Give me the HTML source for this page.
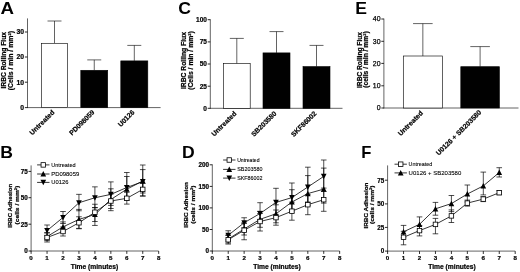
<!DOCTYPE html>
<html lang="en"><head><meta charset="utf-8"><title>Figure</title>
<style>
html,body{margin:0;padding:0;background:#fff;}
body{width:520px;height:272px;overflow:hidden;}
svg{display:block;font-family:"Liberation Sans", Arial, sans-serif;fill:#000;}
</style></head><body>
<svg width="520" height="272" viewBox="0 0 520 272">
<rect x="0" y="0" width="520" height="272" fill="#fff"/>
<g opacity="0.999">
<text transform="translate(0.60 14.00) scale(1.1 1)" x="0" y="0" font-size="17.0" font-weight="bold">A</text>
<line x1="27.50" y1="18.40" x2="27.50" y2="108.00" stroke="#000" stroke-width="0.62"/>
<line x1="27.10" y1="107.60" x2="160.60" y2="107.60" stroke="#000" stroke-width="0.62"/>
<line x1="24.90" y1="32.00" x2="27.50" y2="32.00" stroke="#000" stroke-width="0.85"/>
<text x="24.10" y="34.45" font-size="6.8" font-weight="bold" text-anchor="end" stroke="#000" stroke-width="0.22">30</text>
<line x1="24.90" y1="57.00" x2="27.50" y2="57.00" stroke="#000" stroke-width="0.85"/>
<text x="24.10" y="59.45" font-size="6.8" font-weight="bold" text-anchor="end" stroke="#000" stroke-width="0.22">20</text>
<line x1="24.90" y1="82.20" x2="27.50" y2="82.20" stroke="#000" stroke-width="0.85"/>
<text x="24.10" y="84.65" font-size="6.8" font-weight="bold" text-anchor="end" stroke="#000" stroke-width="0.22">10</text>
<line x1="24.90" y1="107.60" x2="27.50" y2="107.60" stroke="#000" stroke-width="0.85"/>
<text x="24.10" y="110.05" font-size="6.8" font-weight="bold" text-anchor="end" stroke="#000" stroke-width="0.22">0</text>
<line x1="54.50" y1="21.00" x2="54.50" y2="43.30" stroke="#000" stroke-width="0.62"/>
<line x1="47.50" y1="21.00" x2="61.50" y2="21.00" stroke="#000" stroke-width="0.62"/>
<rect x="41.40" y="43.30" width="26.20" height="64.30" fill="#fff" stroke="#000" stroke-width="0.62"/>
<line x1="94.25" y1="59.90" x2="94.25" y2="70.30" stroke="#000" stroke-width="0.62"/>
<line x1="87.25" y1="59.90" x2="101.25" y2="59.90" stroke="#000" stroke-width="0.62"/>
<rect x="80.80" y="70.30" width="26.90" height="37.30" fill="#000" stroke="#000" stroke-width="0.62"/>
<line x1="134.30" y1="45.40" x2="134.30" y2="60.90" stroke="#000" stroke-width="0.62"/>
<line x1="127.30" y1="45.40" x2="141.30" y2="45.40" stroke="#000" stroke-width="0.62"/>
<rect x="120.80" y="60.90" width="27.00" height="46.70" fill="#000" stroke="#000" stroke-width="0.62"/>
<text x="6.40" y="88.50" font-size="6.7" font-weight="bold" text-anchor="start" stroke="#000" stroke-width="0.22" transform="rotate(-90 6.40 88.50)" textLength="56.5" lengthAdjust="spacingAndGlyphs">IRBC Rolling Flux</text>
<text x="13.00" y="90.20" font-size="6.7" font-weight="bold" text-anchor="start" stroke="#000" stroke-width="0.22" transform="rotate(-90 13.00 90.20)" textLength="59.2" lengthAdjust="spacingAndGlyphs">(Cells / min / mm²)</text>
<text x="55.00" y="112.80" font-size="6.9" font-weight="bold" text-anchor="end" stroke="#000" stroke-width="0.22" transform="rotate(-45 55.00 112.80)">Untreated</text>
<text x="95.00" y="112.80" font-size="6.9" font-weight="bold" text-anchor="end" stroke="#000" stroke-width="0.22" transform="rotate(-45 95.00 112.80)">PD098059</text>
<text x="135.00" y="112.80" font-size="6.9" font-weight="bold" text-anchor="end" stroke="#000" stroke-width="0.22" transform="rotate(-45 135.00 112.80)">U0126</text>
<text transform="translate(178.20 13.90) scale(1.06 1)" x="0" y="0" font-size="16.6" font-weight="bold">C</text>
<line x1="210.30" y1="19.30" x2="210.30" y2="108.70" stroke="#000" stroke-width="0.62"/>
<line x1="209.90" y1="108.30" x2="342.50" y2="108.30" stroke="#000" stroke-width="0.62"/>
<line x1="207.70" y1="19.70" x2="210.30" y2="19.70" stroke="#000" stroke-width="0.85"/>
<text x="206.90" y="22.04" font-size="6.5" font-weight="bold" text-anchor="end" stroke="#000" stroke-width="0.22">100</text>
<line x1="207.70" y1="41.90" x2="210.30" y2="41.90" stroke="#000" stroke-width="0.85"/>
<text x="206.90" y="44.24" font-size="6.5" font-weight="bold" text-anchor="end" stroke="#000" stroke-width="0.22">75</text>
<line x1="207.70" y1="64.00" x2="210.30" y2="64.00" stroke="#000" stroke-width="0.85"/>
<text x="206.90" y="66.34" font-size="6.5" font-weight="bold" text-anchor="end" stroke="#000" stroke-width="0.22">50</text>
<line x1="207.70" y1="86.20" x2="210.30" y2="86.20" stroke="#000" stroke-width="0.85"/>
<text x="206.90" y="88.54" font-size="6.5" font-weight="bold" text-anchor="end" stroke="#000" stroke-width="0.22">25</text>
<line x1="207.70" y1="108.30" x2="210.30" y2="108.30" stroke="#000" stroke-width="0.85"/>
<text x="206.90" y="110.64" font-size="6.5" font-weight="bold" text-anchor="end" stroke="#000" stroke-width="0.22">0</text>
<line x1="236.80" y1="38.40" x2="236.80" y2="63.60" stroke="#000" stroke-width="0.62"/>
<line x1="229.80" y1="38.40" x2="243.80" y2="38.40" stroke="#000" stroke-width="0.62"/>
<rect x="223.40" y="63.60" width="26.80" height="44.70" fill="#fff" stroke="#000" stroke-width="0.62"/>
<line x1="276.50" y1="31.60" x2="276.50" y2="52.90" stroke="#000" stroke-width="0.62"/>
<line x1="269.50" y1="31.60" x2="283.50" y2="31.60" stroke="#000" stroke-width="0.62"/>
<rect x="263.00" y="52.90" width="27.00" height="55.40" fill="#000" stroke="#000" stroke-width="0.62"/>
<line x1="316.50" y1="45.40" x2="316.50" y2="66.60" stroke="#000" stroke-width="0.62"/>
<line x1="309.50" y1="45.40" x2="323.50" y2="45.40" stroke="#000" stroke-width="0.62"/>
<rect x="303.00" y="66.60" width="27.00" height="41.70" fill="#000" stroke="#000" stroke-width="0.62"/>
<text x="186.40" y="89.00" font-size="6.7" font-weight="bold" text-anchor="start" stroke="#000" stroke-width="0.22" transform="rotate(-90 186.40 89.00)" textLength="57.0" lengthAdjust="spacingAndGlyphs">IRBC Rolling Flux</text>
<text x="193.40" y="89.80" font-size="6.7" font-weight="bold" text-anchor="start" stroke="#000" stroke-width="0.22" transform="rotate(-90 193.40 89.80)" textLength="58.6" lengthAdjust="spacingAndGlyphs">(Cells / min / mm²)</text>
<text x="237.00" y="114.00" font-size="6.9" font-weight="bold" text-anchor="end" stroke="#000" stroke-width="0.22" transform="rotate(-45 237.00 114.00)">Untreated</text>
<text x="277.00" y="114.00" font-size="6.9" font-weight="bold" text-anchor="end" stroke="#000" stroke-width="0.22" transform="rotate(-45 277.00 114.00)">SB203580</text>
<text x="317.00" y="114.00" font-size="6.9" font-weight="bold" text-anchor="end" stroke="#000" stroke-width="0.22" transform="rotate(-45 317.00 114.00)">SKF86002</text>
<text transform="translate(355.20 13.70) scale(1.06 1)" x="0" y="0" font-size="16.6" font-weight="bold">E</text>
<line x1="383.90" y1="18.60" x2="383.90" y2="108.40" stroke="#000" stroke-width="0.62"/>
<line x1="383.50" y1="108.00" x2="518.50" y2="108.00" stroke="#000" stroke-width="0.62"/>
<line x1="381.30" y1="19.00" x2="383.90" y2="19.00" stroke="#000" stroke-width="0.85"/>
<text x="380.50" y="21.48" font-size="6.9" font-weight="normal" text-anchor="end" stroke="#000" stroke-width="0.25">40</text>
<line x1="381.30" y1="41.30" x2="383.90" y2="41.30" stroke="#000" stroke-width="0.85"/>
<text x="380.50" y="43.78" font-size="6.9" font-weight="normal" text-anchor="end" stroke="#000" stroke-width="0.25">30</text>
<line x1="381.30" y1="63.40" x2="383.90" y2="63.40" stroke="#000" stroke-width="0.85"/>
<text x="380.50" y="65.88" font-size="6.9" font-weight="normal" text-anchor="end" stroke="#000" stroke-width="0.25">20</text>
<line x1="381.30" y1="85.80" x2="383.90" y2="85.80" stroke="#000" stroke-width="0.85"/>
<text x="380.50" y="88.28" font-size="6.9" font-weight="normal" text-anchor="end" stroke="#000" stroke-width="0.25">10</text>
<line x1="381.30" y1="108.00" x2="383.90" y2="108.00" stroke="#000" stroke-width="0.85"/>
<text x="380.50" y="110.48" font-size="6.9" font-weight="normal" text-anchor="end" stroke="#000" stroke-width="0.25">0</text>
<line x1="422.85" y1="23.60" x2="422.85" y2="56.00" stroke="#000" stroke-width="0.62"/>
<line x1="413.05" y1="23.60" x2="432.65" y2="23.60" stroke="#000" stroke-width="0.62"/>
<rect x="403.30" y="56.00" width="39.10" height="52.00" fill="#fff" stroke="#000" stroke-width="0.62"/>
<line x1="480.10" y1="46.60" x2="480.10" y2="66.70" stroke="#000" stroke-width="0.62"/>
<line x1="470.30" y1="46.60" x2="489.90" y2="46.60" stroke="#000" stroke-width="0.62"/>
<rect x="460.80" y="66.70" width="38.60" height="41.30" fill="#000" stroke="#000" stroke-width="0.62"/>
<text x="361.60" y="88.00" font-size="6.7" font-weight="bold" text-anchor="start" stroke="#000" stroke-width="0.22" transform="rotate(-90 361.60 88.00)" textLength="56.0" lengthAdjust="spacingAndGlyphs">IRBC Rolling Flux</text>
<text x="368.40" y="87.80" font-size="6.7" font-weight="bold" text-anchor="start" stroke="#000" stroke-width="0.22" transform="rotate(-90 368.40 87.80)" textLength="56.5" lengthAdjust="spacingAndGlyphs">(cells / min / mm²)</text>
<text x="423.50" y="113.50" font-size="6.9" font-weight="bold" text-anchor="end" stroke="#000" stroke-width="0.22" transform="rotate(-45 423.50 113.50)">Untreated</text>
<text x="481.80" y="112.90" font-size="6.9" font-weight="bold" text-anchor="end" stroke="#000" stroke-width="0.22" transform="rotate(-45 481.80 112.90)">U0126 + SB203580</text>
<text transform="translate(0.30 157.80) scale(1.06 1)" x="0" y="0" font-size="16.6" font-weight="bold">B</text>
<line x1="31.10" y1="165.40" x2="31.10" y2="251.40" stroke="#000" stroke-width="0.62"/>
<line x1="30.70" y1="251.00" x2="158.70" y2="251.00" stroke="#000" stroke-width="0.62"/>
<line x1="28.50" y1="171.40" x2="31.10" y2="171.40" stroke="#000" stroke-width="0.85"/>
<text x="27.70" y="173.70" font-size="6.3" font-weight="bold" text-anchor="end" stroke="#000" stroke-width="0.22">75</text>
<line x1="28.50" y1="197.70" x2="31.10" y2="197.70" stroke="#000" stroke-width="0.85"/>
<text x="27.70" y="200.00" font-size="6.3" font-weight="bold" text-anchor="end" stroke="#000" stroke-width="0.22">50</text>
<line x1="28.50" y1="224.20" x2="31.10" y2="224.20" stroke="#000" stroke-width="0.85"/>
<text x="27.70" y="226.50" font-size="6.3" font-weight="bold" text-anchor="end" stroke="#000" stroke-width="0.22">25</text>
<line x1="28.50" y1="251.00" x2="31.10" y2="251.00" stroke="#000" stroke-width="0.85"/>
<text x="27.70" y="253.30" font-size="6.3" font-weight="bold" text-anchor="end" stroke="#000" stroke-width="0.22">0</text>
<line x1="31.10" y1="251.00" x2="31.10" y2="253.90" stroke="#000" stroke-width="0.8"/>
<text x="31.10" y="259.50" font-size="6.2" font-weight="bold" text-anchor="middle" stroke="#000" stroke-width="0.22">0</text>
<line x1="47.05" y1="251.00" x2="47.05" y2="253.90" stroke="#000" stroke-width="0.8"/>
<text x="47.05" y="259.50" font-size="6.2" font-weight="bold" text-anchor="middle" stroke="#000" stroke-width="0.22">1</text>
<line x1="63.00" y1="251.00" x2="63.00" y2="253.90" stroke="#000" stroke-width="0.8"/>
<text x="63.00" y="259.50" font-size="6.2" font-weight="bold" text-anchor="middle" stroke="#000" stroke-width="0.22">2</text>
<line x1="78.95" y1="251.00" x2="78.95" y2="253.90" stroke="#000" stroke-width="0.8"/>
<text x="78.95" y="259.50" font-size="6.2" font-weight="bold" text-anchor="middle" stroke="#000" stroke-width="0.22">3</text>
<line x1="94.90" y1="251.00" x2="94.90" y2="253.90" stroke="#000" stroke-width="0.8"/>
<text x="94.90" y="259.50" font-size="6.2" font-weight="bold" text-anchor="middle" stroke="#000" stroke-width="0.22">4</text>
<line x1="110.85" y1="251.00" x2="110.85" y2="253.90" stroke="#000" stroke-width="0.8"/>
<text x="110.85" y="259.50" font-size="6.2" font-weight="bold" text-anchor="middle" stroke="#000" stroke-width="0.22">5</text>
<line x1="126.80" y1="251.00" x2="126.80" y2="253.90" stroke="#000" stroke-width="0.8"/>
<text x="126.80" y="259.50" font-size="6.2" font-weight="bold" text-anchor="middle" stroke="#000" stroke-width="0.22">6</text>
<line x1="142.75" y1="251.00" x2="142.75" y2="253.90" stroke="#000" stroke-width="0.8"/>
<text x="142.75" y="259.50" font-size="6.2" font-weight="bold" text-anchor="middle" stroke="#000" stroke-width="0.22">7</text>
<line x1="158.70" y1="251.00" x2="158.70" y2="253.90" stroke="#000" stroke-width="0.8"/>
<text x="158.70" y="259.50" font-size="6.2" font-weight="bold" text-anchor="middle" stroke="#000" stroke-width="0.22">8</text>
<text x="94.40" y="268.90" font-size="6.7" font-weight="bold" text-anchor="middle" stroke="#000" stroke-width="0.22">Time (minutes)</text>
<text x="12.10" y="227.80" font-size="6.0" font-weight="bold" text-anchor="start" stroke="#000" stroke-width="0.22" transform="rotate(-90 12.10 227.80)" textLength="44.0" lengthAdjust="spacingAndGlyphs">IRBC Adhesion</text>
<text x="18.60" y="224.40" font-size="6.0" font-weight="bold" text-anchor="start" stroke="#000" stroke-width="0.22" transform="rotate(-90 18.60 224.40)" textLength="38.7" lengthAdjust="spacingAndGlyphs">(cells / mm²)</text>
<line x1="47.05" y1="225.00" x2="47.05" y2="235.60" stroke="#000" stroke-width="0.7"/>
<line x1="44.25" y1="225.00" x2="49.85" y2="225.00" stroke="#000" stroke-width="0.7"/>
<line x1="44.25" y1="235.60" x2="49.85" y2="235.60" stroke="#000" stroke-width="0.7"/>
<line x1="63.00" y1="211.50" x2="63.00" y2="223.50" stroke="#000" stroke-width="0.7"/>
<line x1="60.20" y1="211.50" x2="65.80" y2="211.50" stroke="#000" stroke-width="0.7"/>
<line x1="60.20" y1="223.50" x2="65.80" y2="223.50" stroke="#000" stroke-width="0.7"/>
<line x1="78.95" y1="194.35" x2="78.95" y2="210.75" stroke="#000" stroke-width="0.7"/>
<line x1="76.15" y1="194.35" x2="81.75" y2="194.35" stroke="#000" stroke-width="0.7"/>
<line x1="76.15" y1="210.75" x2="81.75" y2="210.75" stroke="#000" stroke-width="0.7"/>
<line x1="94.90" y1="186.85" x2="94.90" y2="207.75" stroke="#000" stroke-width="0.7"/>
<line x1="92.10" y1="186.85" x2="97.70" y2="186.85" stroke="#000" stroke-width="0.7"/>
<line x1="92.10" y1="207.75" x2="97.70" y2="207.75" stroke="#000" stroke-width="0.7"/>
<line x1="110.85" y1="181.90" x2="110.85" y2="205.40" stroke="#000" stroke-width="0.7"/>
<line x1="108.05" y1="181.90" x2="113.65" y2="181.90" stroke="#000" stroke-width="0.7"/>
<line x1="108.05" y1="205.40" x2="113.65" y2="205.40" stroke="#000" stroke-width="0.7"/>
<line x1="126.80" y1="172.50" x2="126.80" y2="200.50" stroke="#000" stroke-width="0.7"/>
<line x1="124.00" y1="172.50" x2="129.60" y2="172.50" stroke="#000" stroke-width="0.7"/>
<line x1="124.00" y1="200.50" x2="129.60" y2="200.50" stroke="#000" stroke-width="0.7"/>
<line x1="142.75" y1="165.00" x2="142.75" y2="196.00" stroke="#000" stroke-width="0.7"/>
<line x1="139.95" y1="165.00" x2="145.55" y2="165.00" stroke="#000" stroke-width="0.7"/>
<line x1="139.95" y1="196.00" x2="145.55" y2="196.00" stroke="#000" stroke-width="0.7"/>
<line x1="47.05" y1="232.60" x2="47.05" y2="240.60" stroke="#000" stroke-width="0.7"/>
<line x1="44.25" y1="232.60" x2="49.85" y2="232.60" stroke="#000" stroke-width="0.7"/>
<line x1="44.25" y1="240.60" x2="49.85" y2="240.60" stroke="#000" stroke-width="0.7"/>
<line x1="63.00" y1="221.90" x2="63.00" y2="231.90" stroke="#000" stroke-width="0.7"/>
<line x1="60.20" y1="221.90" x2="65.80" y2="221.90" stroke="#000" stroke-width="0.7"/>
<line x1="60.20" y1="231.90" x2="65.80" y2="231.90" stroke="#000" stroke-width="0.7"/>
<line x1="78.95" y1="209.40" x2="78.95" y2="228.40" stroke="#000" stroke-width="0.7"/>
<line x1="76.15" y1="209.40" x2="81.75" y2="209.40" stroke="#000" stroke-width="0.7"/>
<line x1="76.15" y1="228.40" x2="81.75" y2="228.40" stroke="#000" stroke-width="0.7"/>
<line x1="94.90" y1="207.50" x2="94.90" y2="221.50" stroke="#000" stroke-width="0.7"/>
<line x1="92.10" y1="207.50" x2="97.70" y2="207.50" stroke="#000" stroke-width="0.7"/>
<line x1="92.10" y1="221.50" x2="97.70" y2="221.50" stroke="#000" stroke-width="0.7"/>
<line x1="110.85" y1="188.80" x2="110.85" y2="208.50" stroke="#000" stroke-width="0.7"/>
<line x1="108.05" y1="188.80" x2="113.65" y2="188.80" stroke="#000" stroke-width="0.7"/>
<line x1="108.05" y1="208.50" x2="113.65" y2="208.50" stroke="#000" stroke-width="0.7"/>
<line x1="126.80" y1="176.50" x2="126.80" y2="199.20" stroke="#000" stroke-width="0.7"/>
<line x1="124.00" y1="176.50" x2="129.60" y2="176.50" stroke="#000" stroke-width="0.7"/>
<line x1="124.00" y1="199.20" x2="129.60" y2="199.20" stroke="#000" stroke-width="0.7"/>
<line x1="142.75" y1="169.60" x2="142.75" y2="193.00" stroke="#000" stroke-width="0.7"/>
<line x1="139.95" y1="169.60" x2="145.55" y2="169.60" stroke="#000" stroke-width="0.7"/>
<line x1="139.95" y1="193.00" x2="145.55" y2="193.00" stroke="#000" stroke-width="0.7"/>
<line x1="47.05" y1="233.00" x2="47.05" y2="242.00" stroke="#000" stroke-width="0.7"/>
<line x1="44.25" y1="233.00" x2="49.85" y2="233.00" stroke="#000" stroke-width="0.7"/>
<line x1="44.25" y1="242.00" x2="49.85" y2="242.00" stroke="#000" stroke-width="0.7"/>
<line x1="63.00" y1="227.00" x2="63.00" y2="236.00" stroke="#000" stroke-width="0.7"/>
<line x1="60.20" y1="227.00" x2="65.80" y2="227.00" stroke="#000" stroke-width="0.7"/>
<line x1="60.20" y1="236.00" x2="65.80" y2="236.00" stroke="#000" stroke-width="0.7"/>
<line x1="78.95" y1="216.75" x2="78.95" y2="228.75" stroke="#000" stroke-width="0.7"/>
<line x1="76.15" y1="216.75" x2="81.75" y2="216.75" stroke="#000" stroke-width="0.7"/>
<line x1="76.15" y1="228.75" x2="81.75" y2="228.75" stroke="#000" stroke-width="0.7"/>
<line x1="94.90" y1="204.25" x2="94.90" y2="225.45" stroke="#000" stroke-width="0.7"/>
<line x1="92.10" y1="204.25" x2="97.70" y2="204.25" stroke="#000" stroke-width="0.7"/>
<line x1="92.10" y1="225.45" x2="97.70" y2="225.45" stroke="#000" stroke-width="0.7"/>
<line x1="110.85" y1="194.00" x2="110.85" y2="210.70" stroke="#000" stroke-width="0.7"/>
<line x1="108.05" y1="194.00" x2="113.65" y2="194.00" stroke="#000" stroke-width="0.7"/>
<line x1="108.05" y1="210.70" x2="113.65" y2="210.70" stroke="#000" stroke-width="0.7"/>
<line x1="126.80" y1="192.30" x2="126.80" y2="204.10" stroke="#000" stroke-width="0.7"/>
<line x1="124.00" y1="192.30" x2="129.60" y2="192.30" stroke="#000" stroke-width="0.7"/>
<line x1="124.00" y1="204.10" x2="129.60" y2="204.10" stroke="#000" stroke-width="0.7"/>
<line x1="142.75" y1="183.40" x2="142.75" y2="196.00" stroke="#000" stroke-width="0.7"/>
<line x1="139.95" y1="183.40" x2="145.55" y2="183.40" stroke="#000" stroke-width="0.7"/>
<line x1="139.95" y1="196.00" x2="145.55" y2="196.00" stroke="#000" stroke-width="0.7"/>
<polyline points="47.05,230.60 63.00,217.50 78.95,202.75 94.90,197.75 110.85,194.40 126.80,187.50 142.75,181.60" fill="none" stroke="#000" stroke-width="0.8"/>
<polyline points="47.05,236.60 63.00,226.90 78.95,219.40 94.90,214.50 110.85,199.50 126.80,189.20 142.75,181.00" fill="none" stroke="#000" stroke-width="0.8"/>
<polyline points="47.05,237.50 63.00,231.50 78.95,222.75 94.90,212.25 110.85,201.00 126.80,198.30 142.75,189.40" fill="none" stroke="#000" stroke-width="0.8"/>
<polygon points="47.05,233.50 44.20,228.00 49.90,228.00" fill="#000"/>
<polygon points="63.00,220.40 60.15,214.90 65.85,214.90" fill="#000"/>
<polygon points="78.95,205.65 76.10,200.15 81.80,200.15" fill="#000"/>
<polygon points="94.90,200.65 92.05,195.15 97.75,195.15" fill="#000"/>
<polygon points="110.85,197.30 108.00,191.80 113.70,191.80" fill="#000"/>
<polygon points="126.80,190.40 123.95,184.90 129.65,184.90" fill="#000"/>
<polygon points="142.75,184.50 139.90,179.00 145.60,179.00" fill="#000"/>
<polygon points="47.05,233.70 44.20,239.20 49.90,239.20" fill="#000"/>
<polygon points="63.00,224.00 60.15,229.50 65.85,229.50" fill="#000"/>
<polygon points="78.95,216.50 76.10,222.00 81.80,222.00" fill="#000"/>
<polygon points="94.90,211.60 92.05,217.10 97.75,217.10" fill="#000"/>
<polygon points="110.85,196.60 108.00,202.10 113.70,202.10" fill="#000"/>
<polygon points="126.80,186.30 123.95,191.80 129.65,191.80" fill="#000"/>
<polygon points="142.75,178.10 139.90,183.60 145.60,183.60" fill="#000"/>
<rect x="44.80" y="235.25" width="4.5" height="4.5" fill="#fff" stroke="#000" stroke-width="0.8"/>
<rect x="60.75" y="229.25" width="4.5" height="4.5" fill="#fff" stroke="#000" stroke-width="0.8"/>
<rect x="76.70" y="220.50" width="4.5" height="4.5" fill="#fff" stroke="#000" stroke-width="0.8"/>
<rect x="92.65" y="210.00" width="4.5" height="4.5" fill="#fff" stroke="#000" stroke-width="0.8"/>
<rect x="108.60" y="198.75" width="4.5" height="4.5" fill="#fff" stroke="#000" stroke-width="0.8"/>
<rect x="124.55" y="196.05" width="4.5" height="4.5" fill="#fff" stroke="#000" stroke-width="0.8"/>
<rect x="140.50" y="187.15" width="4.5" height="4.5" fill="#fff" stroke="#000" stroke-width="0.8"/>
<line x1="37.10" y1="164.90" x2="49.50" y2="164.90" stroke="#000" stroke-width="0.8"/>
<rect x="41.05" y="162.65" width="4.5" height="4.5" fill="#fff" stroke="#000" stroke-width="0.8"/>
<text x="51.20" y="166.99" font-size="5.8" font-weight="normal" text-anchor="start" stroke="#000" stroke-width="0.1" textLength="24.4" lengthAdjust="spacingAndGlyphs">Untreated</text>
<line x1="37.10" y1="174.00" x2="49.50" y2="174.00" stroke="#000" stroke-width="0.8"/>
<polygon points="43.30,171.10 40.45,176.60 46.15,176.60" fill="#000"/>
<text x="51.20" y="176.09" font-size="5.8" font-weight="normal" text-anchor="start" stroke="#000" stroke-width="0.1" textLength="28.1" lengthAdjust="spacingAndGlyphs">PD098059</text>
<line x1="37.10" y1="182.40" x2="49.50" y2="182.40" stroke="#000" stroke-width="0.8"/>
<polygon points="43.30,185.30 40.45,179.80 46.15,179.80" fill="#000"/>
<text x="51.20" y="184.49" font-size="5.8" font-weight="normal" text-anchor="start" stroke="#000" stroke-width="0.1" textLength="17.2" lengthAdjust="spacingAndGlyphs">U0126</text>
<text transform="translate(182.00 157.60) scale(1.06 1)" x="0" y="0" font-size="16.6" font-weight="bold">D</text>
<line x1="212.30" y1="164.40" x2="212.30" y2="251.40" stroke="#000" stroke-width="0.62"/>
<line x1="211.90" y1="251.00" x2="339.66" y2="251.00" stroke="#000" stroke-width="0.62"/>
<line x1="209.70" y1="164.80" x2="212.30" y2="164.80" stroke="#000" stroke-width="0.85"/>
<text x="208.90" y="167.10" font-size="6.3" font-weight="bold" text-anchor="end" stroke="#000" stroke-width="0.22">200</text>
<line x1="209.70" y1="186.40" x2="212.30" y2="186.40" stroke="#000" stroke-width="0.85"/>
<text x="208.90" y="188.70" font-size="6.3" font-weight="bold" text-anchor="end" stroke="#000" stroke-width="0.22">150</text>
<line x1="209.70" y1="207.90" x2="212.30" y2="207.90" stroke="#000" stroke-width="0.85"/>
<text x="208.90" y="210.20" font-size="6.3" font-weight="bold" text-anchor="end" stroke="#000" stroke-width="0.22">100</text>
<line x1="209.70" y1="229.50" x2="212.30" y2="229.50" stroke="#000" stroke-width="0.85"/>
<text x="208.90" y="231.80" font-size="6.3" font-weight="bold" text-anchor="end" stroke="#000" stroke-width="0.22">50</text>
<line x1="209.70" y1="251.00" x2="212.30" y2="251.00" stroke="#000" stroke-width="0.85"/>
<text x="208.90" y="253.30" font-size="6.3" font-weight="bold" text-anchor="end" stroke="#000" stroke-width="0.22">0</text>
<line x1="212.30" y1="251.00" x2="212.30" y2="253.90" stroke="#000" stroke-width="0.8"/>
<text x="212.30" y="259.50" font-size="6.2" font-weight="bold" text-anchor="middle" stroke="#000" stroke-width="0.22">0</text>
<line x1="228.22" y1="251.00" x2="228.22" y2="253.90" stroke="#000" stroke-width="0.8"/>
<text x="228.22" y="259.50" font-size="6.2" font-weight="bold" text-anchor="middle" stroke="#000" stroke-width="0.22">1</text>
<line x1="244.14" y1="251.00" x2="244.14" y2="253.90" stroke="#000" stroke-width="0.8"/>
<text x="244.14" y="259.50" font-size="6.2" font-weight="bold" text-anchor="middle" stroke="#000" stroke-width="0.22">2</text>
<line x1="260.06" y1="251.00" x2="260.06" y2="253.90" stroke="#000" stroke-width="0.8"/>
<text x="260.06" y="259.50" font-size="6.2" font-weight="bold" text-anchor="middle" stroke="#000" stroke-width="0.22">3</text>
<line x1="275.98" y1="251.00" x2="275.98" y2="253.90" stroke="#000" stroke-width="0.8"/>
<text x="275.98" y="259.50" font-size="6.2" font-weight="bold" text-anchor="middle" stroke="#000" stroke-width="0.22">4</text>
<line x1="291.90" y1="251.00" x2="291.90" y2="253.90" stroke="#000" stroke-width="0.8"/>
<text x="291.90" y="259.50" font-size="6.2" font-weight="bold" text-anchor="middle" stroke="#000" stroke-width="0.22">5</text>
<line x1="307.82" y1="251.00" x2="307.82" y2="253.90" stroke="#000" stroke-width="0.8"/>
<text x="307.82" y="259.50" font-size="6.2" font-weight="bold" text-anchor="middle" stroke="#000" stroke-width="0.22">6</text>
<line x1="323.74" y1="251.00" x2="323.74" y2="253.90" stroke="#000" stroke-width="0.8"/>
<text x="323.74" y="259.50" font-size="6.2" font-weight="bold" text-anchor="middle" stroke="#000" stroke-width="0.22">7</text>
<line x1="339.66" y1="251.00" x2="339.66" y2="253.90" stroke="#000" stroke-width="0.8"/>
<text x="339.66" y="259.50" font-size="6.2" font-weight="bold" text-anchor="middle" stroke="#000" stroke-width="0.22">8</text>
<text x="276.90" y="268.90" font-size="6.7" font-weight="bold" text-anchor="middle" stroke="#000" stroke-width="0.22">Time (minutes)</text>
<text x="188.30" y="227.80" font-size="6.0" font-weight="bold" text-anchor="start" stroke="#000" stroke-width="0.22" transform="rotate(-90 188.30 227.80)" textLength="45.7" lengthAdjust="spacingAndGlyphs">IRBC Adhesion</text>
<text x="195.00" y="223.80" font-size="6.0" font-weight="bold" text-anchor="start" stroke="#000" stroke-width="0.22" transform="rotate(-90 195.00 223.80)" textLength="38.2" lengthAdjust="spacingAndGlyphs">(cells / mm²)</text>
<line x1="228.22" y1="230.75" x2="228.22" y2="239.75" stroke="#000" stroke-width="0.7"/>
<line x1="225.42" y1="230.75" x2="231.02" y2="230.75" stroke="#000" stroke-width="0.7"/>
<line x1="225.42" y1="239.75" x2="231.02" y2="239.75" stroke="#000" stroke-width="0.7"/>
<line x1="244.14" y1="217.75" x2="244.14" y2="227.75" stroke="#000" stroke-width="0.7"/>
<line x1="241.34" y1="217.75" x2="246.94" y2="217.75" stroke="#000" stroke-width="0.7"/>
<line x1="241.34" y1="227.75" x2="246.94" y2="227.75" stroke="#000" stroke-width="0.7"/>
<line x1="260.06" y1="202.70" x2="260.06" y2="219.50" stroke="#000" stroke-width="0.7"/>
<line x1="257.26" y1="202.70" x2="262.86" y2="202.70" stroke="#000" stroke-width="0.7"/>
<line x1="257.26" y1="219.50" x2="262.86" y2="219.50" stroke="#000" stroke-width="0.7"/>
<line x1="275.98" y1="188.30" x2="275.98" y2="214.40" stroke="#000" stroke-width="0.7"/>
<line x1="273.18" y1="188.30" x2="278.78" y2="188.30" stroke="#000" stroke-width="0.7"/>
<line x1="273.18" y1="214.40" x2="278.78" y2="214.40" stroke="#000" stroke-width="0.7"/>
<line x1="291.90" y1="183.00" x2="291.90" y2="209.60" stroke="#000" stroke-width="0.7"/>
<line x1="289.10" y1="183.00" x2="294.70" y2="183.00" stroke="#000" stroke-width="0.7"/>
<line x1="289.10" y1="209.60" x2="294.70" y2="209.60" stroke="#000" stroke-width="0.7"/>
<line x1="307.82" y1="167.20" x2="307.82" y2="202.00" stroke="#000" stroke-width="0.7"/>
<line x1="305.02" y1="167.20" x2="310.62" y2="167.20" stroke="#000" stroke-width="0.7"/>
<line x1="305.02" y1="202.00" x2="310.62" y2="202.00" stroke="#000" stroke-width="0.7"/>
<line x1="323.74" y1="160.00" x2="323.74" y2="191.40" stroke="#000" stroke-width="0.7"/>
<line x1="320.94" y1="160.00" x2="326.54" y2="160.00" stroke="#000" stroke-width="0.7"/>
<line x1="320.94" y1="191.40" x2="326.54" y2="191.40" stroke="#000" stroke-width="0.7"/>
<line x1="228.22" y1="235.00" x2="228.22" y2="243.00" stroke="#000" stroke-width="0.7"/>
<line x1="225.42" y1="235.00" x2="231.02" y2="235.00" stroke="#000" stroke-width="0.7"/>
<line x1="225.42" y1="243.00" x2="231.02" y2="243.00" stroke="#000" stroke-width="0.7"/>
<line x1="244.14" y1="223.00" x2="244.14" y2="235.00" stroke="#000" stroke-width="0.7"/>
<line x1="241.34" y1="223.00" x2="246.94" y2="223.00" stroke="#000" stroke-width="0.7"/>
<line x1="241.34" y1="235.00" x2="246.94" y2="235.00" stroke="#000" stroke-width="0.7"/>
<line x1="260.06" y1="211.30" x2="260.06" y2="227.30" stroke="#000" stroke-width="0.7"/>
<line x1="257.26" y1="211.30" x2="262.86" y2="211.30" stroke="#000" stroke-width="0.7"/>
<line x1="257.26" y1="227.30" x2="262.86" y2="227.30" stroke="#000" stroke-width="0.7"/>
<line x1="275.98" y1="204.80" x2="275.98" y2="222.80" stroke="#000" stroke-width="0.7"/>
<line x1="273.18" y1="204.80" x2="278.78" y2="204.80" stroke="#000" stroke-width="0.7"/>
<line x1="273.18" y1="222.80" x2="278.78" y2="222.80" stroke="#000" stroke-width="0.7"/>
<line x1="291.90" y1="189.70" x2="291.90" y2="212.00" stroke="#000" stroke-width="0.7"/>
<line x1="289.10" y1="189.70" x2="294.70" y2="189.70" stroke="#000" stroke-width="0.7"/>
<line x1="289.10" y1="212.00" x2="294.70" y2="212.00" stroke="#000" stroke-width="0.7"/>
<line x1="307.82" y1="175.60" x2="307.82" y2="205.60" stroke="#000" stroke-width="0.7"/>
<line x1="305.02" y1="175.60" x2="310.62" y2="175.60" stroke="#000" stroke-width="0.7"/>
<line x1="305.02" y1="205.60" x2="310.62" y2="205.60" stroke="#000" stroke-width="0.7"/>
<line x1="323.74" y1="168.10" x2="323.74" y2="203.10" stroke="#000" stroke-width="0.7"/>
<line x1="320.94" y1="168.10" x2="326.54" y2="168.10" stroke="#000" stroke-width="0.7"/>
<line x1="320.94" y1="203.10" x2="326.54" y2="203.10" stroke="#000" stroke-width="0.7"/>
<line x1="228.22" y1="235.45" x2="228.22" y2="244.05" stroke="#000" stroke-width="0.7"/>
<line x1="225.42" y1="235.45" x2="231.02" y2="235.45" stroke="#000" stroke-width="0.7"/>
<line x1="225.42" y1="244.05" x2="231.02" y2="244.05" stroke="#000" stroke-width="0.7"/>
<line x1="244.14" y1="223.25" x2="244.14" y2="239.75" stroke="#000" stroke-width="0.7"/>
<line x1="241.34" y1="223.25" x2="246.94" y2="223.25" stroke="#000" stroke-width="0.7"/>
<line x1="241.34" y1="239.75" x2="246.94" y2="239.75" stroke="#000" stroke-width="0.7"/>
<line x1="260.06" y1="213.50" x2="260.06" y2="231.00" stroke="#000" stroke-width="0.7"/>
<line x1="257.26" y1="213.50" x2="262.86" y2="213.50" stroke="#000" stroke-width="0.7"/>
<line x1="257.26" y1="231.00" x2="262.86" y2="231.00" stroke="#000" stroke-width="0.7"/>
<line x1="275.98" y1="210.00" x2="275.98" y2="225.20" stroke="#000" stroke-width="0.7"/>
<line x1="273.18" y1="210.00" x2="278.78" y2="210.00" stroke="#000" stroke-width="0.7"/>
<line x1="273.18" y1="225.20" x2="278.78" y2="225.20" stroke="#000" stroke-width="0.7"/>
<line x1="291.90" y1="202.20" x2="291.90" y2="220.20" stroke="#000" stroke-width="0.7"/>
<line x1="289.10" y1="202.20" x2="294.70" y2="202.20" stroke="#000" stroke-width="0.7"/>
<line x1="289.10" y1="220.20" x2="294.70" y2="220.20" stroke="#000" stroke-width="0.7"/>
<line x1="307.82" y1="194.70" x2="307.82" y2="214.70" stroke="#000" stroke-width="0.7"/>
<line x1="305.02" y1="194.70" x2="310.62" y2="194.70" stroke="#000" stroke-width="0.7"/>
<line x1="305.02" y1="214.70" x2="310.62" y2="214.70" stroke="#000" stroke-width="0.7"/>
<line x1="323.74" y1="188.10" x2="323.74" y2="211.30" stroke="#000" stroke-width="0.7"/>
<line x1="320.94" y1="188.10" x2="326.54" y2="188.10" stroke="#000" stroke-width="0.7"/>
<line x1="320.94" y1="211.30" x2="326.54" y2="211.30" stroke="#000" stroke-width="0.7"/>
<polyline points="228.22,235.25 244.14,222.75 260.06,213.50 275.98,202.40 291.90,197.60 307.82,187.00 323.74,176.40" fill="none" stroke="#000" stroke-width="0.8"/>
<polyline points="228.22,239.00 244.14,229.00 260.06,219.30 275.98,213.80 291.90,202.00 307.82,193.60 323.74,189.10" fill="none" stroke="#000" stroke-width="0.8"/>
<polyline points="228.22,239.75 244.14,230.25 260.06,221.50 275.98,217.60 291.90,211.20 307.82,204.70 323.74,199.70" fill="none" stroke="#000" stroke-width="0.8"/>
<polygon points="228.22,238.15 225.37,232.65 231.07,232.65" fill="#000"/>
<polygon points="244.14,225.65 241.29,220.15 246.99,220.15" fill="#000"/>
<polygon points="260.06,216.40 257.21,210.90 262.91,210.90" fill="#000"/>
<polygon points="275.98,205.30 273.13,199.80 278.83,199.80" fill="#000"/>
<polygon points="291.90,200.50 289.05,195.00 294.75,195.00" fill="#000"/>
<polygon points="307.82,189.90 304.97,184.40 310.67,184.40" fill="#000"/>
<polygon points="323.74,179.30 320.89,173.80 326.59,173.80" fill="#000"/>
<polygon points="228.22,236.10 225.37,241.60 231.07,241.60" fill="#000"/>
<polygon points="244.14,226.10 241.29,231.60 246.99,231.60" fill="#000"/>
<polygon points="260.06,216.40 257.21,221.90 262.91,221.90" fill="#000"/>
<polygon points="275.98,210.90 273.13,216.40 278.83,216.40" fill="#000"/>
<polygon points="291.90,199.10 289.05,204.60 294.75,204.60" fill="#000"/>
<polygon points="307.82,190.70 304.97,196.20 310.67,196.20" fill="#000"/>
<polygon points="323.74,186.20 320.89,191.70 326.59,191.70" fill="#000"/>
<rect x="225.97" y="237.50" width="4.5" height="4.5" fill="#fff" stroke="#000" stroke-width="0.8"/>
<rect x="241.89" y="228.00" width="4.5" height="4.5" fill="#fff" stroke="#000" stroke-width="0.8"/>
<rect x="257.81" y="219.25" width="4.5" height="4.5" fill="#fff" stroke="#000" stroke-width="0.8"/>
<rect x="273.73" y="215.35" width="4.5" height="4.5" fill="#fff" stroke="#000" stroke-width="0.8"/>
<rect x="289.65" y="208.95" width="4.5" height="4.5" fill="#fff" stroke="#000" stroke-width="0.8"/>
<rect x="305.57" y="202.45" width="4.5" height="4.5" fill="#fff" stroke="#000" stroke-width="0.8"/>
<rect x="321.49" y="197.45" width="4.5" height="4.5" fill="#fff" stroke="#000" stroke-width="0.8"/>
<line x1="223.10" y1="160.00" x2="235.50" y2="160.00" stroke="#000" stroke-width="0.8"/>
<rect x="227.05" y="157.75" width="4.5" height="4.5" fill="#fff" stroke="#000" stroke-width="0.8"/>
<text x="237.20" y="161.91" font-size="5.3" font-weight="normal" text-anchor="start" stroke="#000" stroke-width="0.1" textLength="22.3" lengthAdjust="spacingAndGlyphs">Untreated</text>
<line x1="223.10" y1="169.40" x2="235.50" y2="169.40" stroke="#000" stroke-width="0.8"/>
<polygon points="229.30,166.50 226.45,172.00 232.15,172.00" fill="#000"/>
<text x="237.20" y="171.31" font-size="5.3" font-weight="normal" text-anchor="start" stroke="#000" stroke-width="0.1" textLength="25.3" lengthAdjust="spacingAndGlyphs">SB203580</text>
<line x1="223.10" y1="178.10" x2="235.50" y2="178.10" stroke="#000" stroke-width="0.8"/>
<polygon points="229.30,181.00 226.45,175.50 232.15,175.50" fill="#000"/>
<text x="237.20" y="180.01" font-size="5.3" font-weight="normal" text-anchor="start" stroke="#000" stroke-width="0.1" textLength="25.3" lengthAdjust="spacingAndGlyphs">SKF86002</text>
<text transform="translate(361.20 158.30) scale(1.0 1)" x="0" y="0" font-size="16.6" font-weight="bold">F</text>
<line x1="387.60" y1="165.40" x2="387.60" y2="251.50" stroke="#000" stroke-width="0.62"/>
<line x1="387.20" y1="251.10" x2="515.20" y2="251.10" stroke="#000" stroke-width="0.62"/>
<line x1="385.00" y1="180.20" x2="387.60" y2="180.20" stroke="#000" stroke-width="0.85"/>
<text x="384.20" y="182.50" font-size="6.3" font-weight="bold" text-anchor="end" stroke="#000" stroke-width="0.22">75</text>
<line x1="385.00" y1="203.90" x2="387.60" y2="203.90" stroke="#000" stroke-width="0.85"/>
<text x="384.20" y="206.20" font-size="6.3" font-weight="bold" text-anchor="end" stroke="#000" stroke-width="0.22">50</text>
<line x1="385.00" y1="227.40" x2="387.60" y2="227.40" stroke="#000" stroke-width="0.85"/>
<text x="384.20" y="229.70" font-size="6.3" font-weight="bold" text-anchor="end" stroke="#000" stroke-width="0.22">25</text>
<line x1="385.00" y1="251.10" x2="387.60" y2="251.10" stroke="#000" stroke-width="0.85"/>
<text x="384.20" y="253.40" font-size="6.3" font-weight="bold" text-anchor="end" stroke="#000" stroke-width="0.22">0</text>
<line x1="387.60" y1="251.10" x2="387.60" y2="254.00" stroke="#000" stroke-width="0.8"/>
<text x="387.60" y="259.60" font-size="6.2" font-weight="bold" text-anchor="middle" stroke="#000" stroke-width="0.22">0</text>
<line x1="403.55" y1="251.10" x2="403.55" y2="254.00" stroke="#000" stroke-width="0.8"/>
<text x="403.55" y="259.60" font-size="6.2" font-weight="bold" text-anchor="middle" stroke="#000" stroke-width="0.22">1</text>
<line x1="419.50" y1="251.10" x2="419.50" y2="254.00" stroke="#000" stroke-width="0.8"/>
<text x="419.50" y="259.60" font-size="6.2" font-weight="bold" text-anchor="middle" stroke="#000" stroke-width="0.22">2</text>
<line x1="435.45" y1="251.10" x2="435.45" y2="254.00" stroke="#000" stroke-width="0.8"/>
<text x="435.45" y="259.60" font-size="6.2" font-weight="bold" text-anchor="middle" stroke="#000" stroke-width="0.22">3</text>
<line x1="451.40" y1="251.10" x2="451.40" y2="254.00" stroke="#000" stroke-width="0.8"/>
<text x="451.40" y="259.60" font-size="6.2" font-weight="bold" text-anchor="middle" stroke="#000" stroke-width="0.22">4</text>
<line x1="467.35" y1="251.10" x2="467.35" y2="254.00" stroke="#000" stroke-width="0.8"/>
<text x="467.35" y="259.60" font-size="6.2" font-weight="bold" text-anchor="middle" stroke="#000" stroke-width="0.22">5</text>
<line x1="483.30" y1="251.10" x2="483.30" y2="254.00" stroke="#000" stroke-width="0.8"/>
<text x="483.30" y="259.60" font-size="6.2" font-weight="bold" text-anchor="middle" stroke="#000" stroke-width="0.22">6</text>
<line x1="499.25" y1="251.10" x2="499.25" y2="254.00" stroke="#000" stroke-width="0.8"/>
<text x="499.25" y="259.60" font-size="6.2" font-weight="bold" text-anchor="middle" stroke="#000" stroke-width="0.22">7</text>
<line x1="515.20" y1="251.10" x2="515.20" y2="254.00" stroke="#000" stroke-width="0.8"/>
<text x="515.20" y="259.60" font-size="6.2" font-weight="bold" text-anchor="middle" stroke="#000" stroke-width="0.22">8</text>
<text x="452.00" y="268.90" font-size="6.7" font-weight="bold" text-anchor="middle" stroke="#000" stroke-width="0.22">Time (minutes)</text>
<text x="367.60" y="228.50" font-size="6.0" font-weight="bold" text-anchor="start" stroke="#000" stroke-width="0.22" transform="rotate(-90 367.60 228.50)" textLength="46.0" lengthAdjust="spacingAndGlyphs">IRBC Adhesion</text>
<text x="374.00" y="224.00" font-size="6.0" font-weight="bold" text-anchor="start" stroke="#000" stroke-width="0.22" transform="rotate(-90 374.00 224.00)" textLength="38.4" lengthAdjust="spacingAndGlyphs">(cells / mm²)</text>
<line x1="403.55" y1="225.40" x2="403.55" y2="237.80" stroke="#000" stroke-width="0.7"/>
<line x1="400.75" y1="225.40" x2="406.35" y2="225.40" stroke="#000" stroke-width="0.7"/>
<line x1="400.75" y1="237.80" x2="406.35" y2="237.80" stroke="#000" stroke-width="0.7"/>
<line x1="419.50" y1="216.90" x2="419.50" y2="231.30" stroke="#000" stroke-width="0.7"/>
<line x1="416.70" y1="216.90" x2="422.30" y2="216.90" stroke="#000" stroke-width="0.7"/>
<line x1="416.70" y1="231.30" x2="422.30" y2="231.30" stroke="#000" stroke-width="0.7"/>
<line x1="435.45" y1="202.40" x2="435.45" y2="215.20" stroke="#000" stroke-width="0.7"/>
<line x1="432.65" y1="202.40" x2="438.25" y2="202.40" stroke="#000" stroke-width="0.7"/>
<line x1="432.65" y1="215.20" x2="438.25" y2="215.20" stroke="#000" stroke-width="0.7"/>
<line x1="451.40" y1="195.50" x2="451.40" y2="211.60" stroke="#000" stroke-width="0.7"/>
<line x1="448.60" y1="195.50" x2="454.20" y2="195.50" stroke="#000" stroke-width="0.7"/>
<line x1="448.60" y1="211.60" x2="454.20" y2="211.60" stroke="#000" stroke-width="0.7"/>
<line x1="467.35" y1="185.00" x2="467.35" y2="202.00" stroke="#000" stroke-width="0.7"/>
<line x1="464.55" y1="185.00" x2="470.15" y2="185.00" stroke="#000" stroke-width="0.7"/>
<line x1="464.55" y1="202.00" x2="470.15" y2="202.00" stroke="#000" stroke-width="0.7"/>
<line x1="483.30" y1="172.10" x2="483.30" y2="194.90" stroke="#000" stroke-width="0.7"/>
<line x1="480.50" y1="172.10" x2="486.10" y2="172.10" stroke="#000" stroke-width="0.7"/>
<line x1="480.50" y1="194.90" x2="486.10" y2="194.90" stroke="#000" stroke-width="0.7"/>
<line x1="499.25" y1="167.70" x2="499.25" y2="177.00" stroke="#000" stroke-width="0.7"/>
<line x1="496.45" y1="167.70" x2="502.05" y2="167.70" stroke="#000" stroke-width="0.7"/>
<line x1="496.45" y1="177.00" x2="502.05" y2="177.00" stroke="#000" stroke-width="0.7"/>
<line x1="403.55" y1="231.30" x2="403.55" y2="244.80" stroke="#000" stroke-width="0.7"/>
<line x1="400.75" y1="231.30" x2="406.35" y2="231.30" stroke="#000" stroke-width="0.7"/>
<line x1="400.75" y1="244.80" x2="406.35" y2="244.80" stroke="#000" stroke-width="0.7"/>
<line x1="419.50" y1="225.60" x2="419.50" y2="235.90" stroke="#000" stroke-width="0.7"/>
<line x1="416.70" y1="225.60" x2="422.30" y2="225.60" stroke="#000" stroke-width="0.7"/>
<line x1="416.70" y1="235.90" x2="422.30" y2="235.90" stroke="#000" stroke-width="0.7"/>
<line x1="435.45" y1="218.40" x2="435.45" y2="233.80" stroke="#000" stroke-width="0.7"/>
<line x1="432.65" y1="218.40" x2="438.25" y2="218.40" stroke="#000" stroke-width="0.7"/>
<line x1="432.65" y1="233.80" x2="438.25" y2="233.80" stroke="#000" stroke-width="0.7"/>
<line x1="451.40" y1="209.90" x2="451.40" y2="222.50" stroke="#000" stroke-width="0.7"/>
<line x1="448.60" y1="209.90" x2="454.20" y2="209.90" stroke="#000" stroke-width="0.7"/>
<line x1="448.60" y1="222.50" x2="454.20" y2="222.50" stroke="#000" stroke-width="0.7"/>
<line x1="467.35" y1="200.10" x2="467.35" y2="206.10" stroke="#000" stroke-width="0.7"/>
<line x1="464.55" y1="200.10" x2="470.15" y2="200.10" stroke="#000" stroke-width="0.7"/>
<line x1="464.55" y1="206.10" x2="470.15" y2="206.10" stroke="#000" stroke-width="0.7"/>
<line x1="483.30" y1="196.60" x2="483.30" y2="201.60" stroke="#000" stroke-width="0.7"/>
<line x1="480.50" y1="196.60" x2="486.10" y2="196.60" stroke="#000" stroke-width="0.7"/>
<line x1="480.50" y1="201.60" x2="486.10" y2="201.60" stroke="#000" stroke-width="0.7"/>
<line x1="499.25" y1="190.70" x2="499.25" y2="194.70" stroke="#000" stroke-width="0.7"/>
<line x1="496.45" y1="190.70" x2="502.05" y2="190.70" stroke="#000" stroke-width="0.7"/>
<line x1="496.45" y1="194.70" x2="502.05" y2="194.70" stroke="#000" stroke-width="0.7"/>
<polyline points="403.55,231.80 419.50,224.30 435.45,208.80 451.40,203.60 467.35,194.00 483.30,185.90 499.25,172.50" fill="none" stroke="#000" stroke-width="0.8"/>
<polyline points="403.55,237.30 419.50,230.60 435.45,224.40 451.40,215.90 467.35,203.10 483.30,199.10 499.25,192.70" fill="none" stroke="#000" stroke-width="0.8"/>
<polygon points="403.55,228.90 400.70,234.40 406.40,234.40" fill="#000"/>
<polygon points="419.50,221.40 416.65,226.90 422.35,226.90" fill="#000"/>
<polygon points="435.45,205.90 432.60,211.40 438.30,211.40" fill="#000"/>
<polygon points="451.40,200.70 448.55,206.20 454.25,206.20" fill="#000"/>
<polygon points="467.35,191.10 464.50,196.60 470.20,196.60" fill="#000"/>
<polygon points="483.30,183.00 480.45,188.50 486.15,188.50" fill="#000"/>
<polygon points="499.25,169.60 496.40,175.10 502.10,175.10" fill="#000"/>
<rect x="401.30" y="235.05" width="4.5" height="4.5" fill="#fff" stroke="#000" stroke-width="0.8"/>
<rect x="417.25" y="228.35" width="4.5" height="4.5" fill="#fff" stroke="#000" stroke-width="0.8"/>
<rect x="433.20" y="222.15" width="4.5" height="4.5" fill="#fff" stroke="#000" stroke-width="0.8"/>
<rect x="449.15" y="213.65" width="4.5" height="4.5" fill="#fff" stroke="#000" stroke-width="0.8"/>
<rect x="465.10" y="200.85" width="4.5" height="4.5" fill="#fff" stroke="#000" stroke-width="0.8"/>
<rect x="481.05" y="196.85" width="4.5" height="4.5" fill="#fff" stroke="#000" stroke-width="0.8"/>
<rect x="497.00" y="190.45" width="4.5" height="4.5" fill="#fff" stroke="#000" stroke-width="0.8"/>
<line x1="394.50" y1="164.20" x2="406.90" y2="164.20" stroke="#000" stroke-width="0.8"/>
<rect x="398.45" y="161.95" width="4.5" height="4.5" fill="#fff" stroke="#000" stroke-width="0.8"/>
<text x="408.60" y="166.31" font-size="5.85" font-weight="normal" text-anchor="start" stroke="#000" stroke-width="0.1" textLength="23.6" lengthAdjust="spacingAndGlyphs">Untreated</text>
<line x1="394.50" y1="172.90" x2="406.90" y2="172.90" stroke="#000" stroke-width="0.8"/>
<polygon points="400.70,170.00 397.85,175.50 403.55,175.50" fill="#000"/>
<text x="408.60" y="175.01" font-size="5.85" font-weight="normal" text-anchor="start" stroke="#000" stroke-width="0.1" textLength="52.7" lengthAdjust="spacingAndGlyphs">U0126 + SB203580</text>
</g>
</svg>
</body></html>
